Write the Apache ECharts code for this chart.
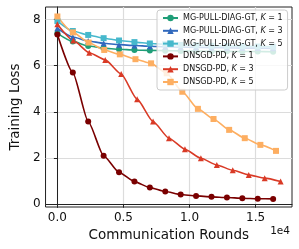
<!DOCTYPE html>
<html>
<head>
<meta charset="utf-8">
<script src="https://cdn.jsdelivr.net/npm/echarts@6/dist/echarts.min.js"></script>
<style>html,body{margin:0;padding:0;background:#fff}#c{width:299px;height:249px}</style>
</head>
<body>
<div id="c"></div>
<script>
// x positions (communication rounds)
const xA = [0,1167,2333,3500,4667,5833,7000,8167,9333,10500,11667,12833,14000,15167,16333];
const xB = [0,1207,2414,3621,4828,6035,7242,8449,9656,10863,12070,13277,14484,15691,16898];
const xC = [0,1182,2364,3546,4728,5910,7092,8274,9456,10638,11820,13002,14184,15366,16548];

const mgK1 = [7.40,7.05,6.85,6.76,6.71,6.68,6.66,6.65,6.64,6.63,6.62,6.62,6.61,6.61,6.60];
const mgK3 = [7.62,7.24,7.07,6.97,6.91,6.87,6.84,6.82,6.80,6.79,6.78,6.77,6.76,6.76,6.75];
const mgK5 = [7.93,7.50,7.33,7.19,7.09,7.02,6.96,6.93,6.90,6.88,6.86,6.85,6.84,6.83,6.82];
const dnK1 = [7.35,5.70,3.58,2.10,1.38,0.98,0.72,0.55,0.42,0.36,0.32,0.29,0.26,0.24,0.23];
const dnK3 = [7.79,7.09,6.56,6.25,5.64,4.55,3.58,2.86,2.38,1.99,1.70,1.47,1.27,1.13,0.98];
const dnK5 = [8.13,7.44,7.00,6.68,6.49,6.28,6.10,5.67,4.87,4.13,3.69,3.22,2.86,2.57,2.31];

const xTicks = [0,5000,10000,15000];
const yTicks = [0,2,4,6,8];
const names = ['MG-PULL-DIAG-GT, K = 1','MG-PULL-DIAG-GT, K = 3','MG-PULL-DIAG-GT, K = 5',
               'DNSGD-PD, K = 1','DNSGD-PD, K = 3','DNSGD-PD, K = 5'];

const specs = [
  {x:xA, y:mgK1, c:'#1f9e78', s:'circle'},
  {x:xA, y:mgK3, c:'#3169bd', s:'triangle'},
  {x:xA, y:mgK5, c:'#46b8cc', s:'rect'},
  {x:xA, y:dnK1, c:'#7a0000', s:'circle'},
  {x:xB, y:dnK3, c:'#d93a26', s:'triangle'},
  {x:xC, y:dnK5, c:'#fdae61', s:'rect'}
];

const chart = echarts.init(document.getElementById('c'), null, {renderer:'canvas'});
const font = 'DejaVu Sans';
chart.setOption({
  animation:false,
  backgroundColor:'#fff',
  grid:{left:36, top:7, right:7, bottom:42, show:true, borderColor:'#222', borderWidth:1},
  xAxis:{
    type:'value', min:-897, max:17760,
    axisLine:{show:true, lineStyle:{color:'#222'}},
    axisTick:{show:true, length:3.5, customValues:xTicks, lineStyle:{color:'#222'}},
    splitLine:{show:true, lineStyle:{color:'#dcdcdc', width:1.2}},
    axisLabel:{customValues:xTicks, margin:5, fontFamily:font, fontSize:12, color:'#111',
      formatter:v=>(v/10000).toFixed(1)},
    name:'Communication Rounds', nameLocation:'middle', nameGap:19,
    nameTextStyle:{fontFamily:font, fontSize:13.5, color:'#111'}
  },
  yAxis:{
    type:'value', min:-0.12, max:8.54,
    axisLine:{show:true, lineStyle:{color:'#222'}},
    axisTick:{show:true, length:3.5, customValues:yTicks, lineStyle:{color:'#222'}},
    splitLine:{show:true, lineStyle:{color:'#dcdcdc', width:1.2}},
    axisLabel:{customValues:yTicks, margin:5, fontFamily:font, fontSize:12, color:'#111'},
    name:'Training Loss', nameLocation:'middle', nameGap:18,
    nameTextStyle:{fontFamily:font, fontSize:13.5, color:'#111'}
  },
  legend:{
    left:157, top:10, orient:'vertical', z:10,
    padding:[2,5,2,5], itemWidth:15, itemHeight:8, itemGap:0.8,
    backgroundColor:'rgba(255,255,255,0.8)', borderColor:'#cccccc', borderWidth:1, borderRadius:3,
    textStyle:{fontFamily:font, fontSize:8, color:'#111', lineHeight:12,
      rich:{i:{fontStyle:'italic', fontFamily:font, fontSize:8, color:'#111', lineHeight:12}}},
    formatter:n=>n.replace('K =','{i|K} ='),
    data:names
  },
  graphic:[{type:'text', right:9, top:226, style:{text:'1e4', font:'10.5px "DejaVu Sans"', fill:'#111'}}],
  series:specs.map((sp,i)=>({
    name:names[i], type:'line',
    data:sp.x.map((x,j)=>[x, sp.y[j]]),
    smooth:0.2, smoothMonotone:'x',
    symbol:sp.s, symbolSize:6, showSymbol:true,
    lineStyle:{color:sp.c, width:1.6},
    itemStyle:{color:sp.c}
  }))
});
</script>
</body>
</html>
